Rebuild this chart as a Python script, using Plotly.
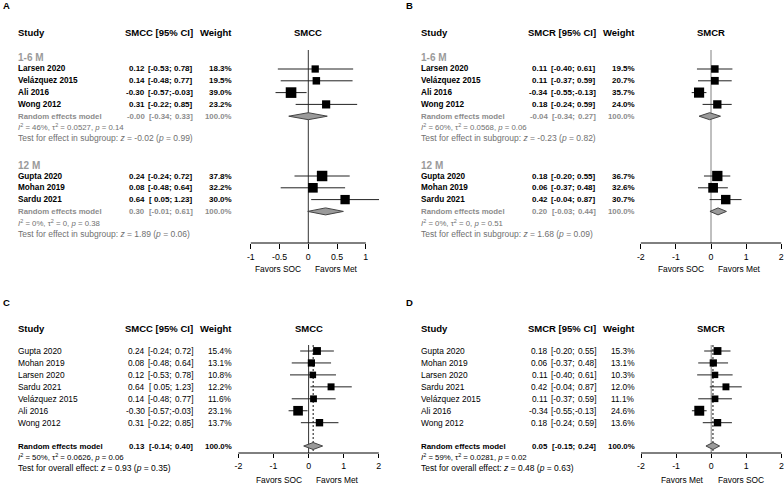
import math
import plotly.graph_objects as go

W, H = 784, 485
FONT = "Liberation Sans, Arial, Helvetica, sans-serif"

# ---------------- data ----------------
sub_1_6_studies = ["Larsen 2020", "Velázquez 2015", "Ali 2016", "Wong 2012"]
sub_12_studies = ["Gupta 2020", "Mohan 2019", "Sardu 2021"]
all_studies = ["Gupta 2020", "Mohan 2019", "Larsen 2020", "Sardu 2021",
               "Velázquez 2015", "Ali 2016", "Wong 2012"]

# Panel A: SMCC by subgroup
smcc_1_6_est = [0.12, 0.14, -0.30, 0.31]
smcc_1_6_lo = [-0.53, -0.48, -0.57, -0.22]
smcc_1_6_hi = [0.78, 0.77, -0.03, 0.85]
smcc_1_6_w = [18.3, 19.5, 39.0, 23.2]
smcc_1_6_re = [-0.00, -0.34, 0.33]
smcc_1_6_het = ["46%", "0.0527", "0.14"]
smcc_1_6_test = ["-0.02", "0.99"]

smcc_12_est = [0.24, 0.08, 0.64]
smcc_12_lo = [-0.24, -0.48, 0.05]
smcc_12_hi = [0.72, 0.64, 1.23]
smcc_12_w = [37.8, 32.2, 30.0]
smcc_12_re = [0.30, -0.01, 0.61]
smcc_12_het = ["0%", "0", "0.38"]
smcc_12_test = ["1.89", "0.06"]

# Panel B: SMCR by subgroup
smcr_1_6_est = [0.11, 0.11, -0.34, 0.18]
smcr_1_6_lo = [-0.40, -0.37, -0.55, -0.24]
smcr_1_6_hi = [0.61, 0.59, -0.13, 0.59]
smcr_1_6_w = [19.5, 20.7, 35.7, 24.0]
smcr_1_6_re = [-0.04, -0.34, 0.27]
smcr_1_6_het = ["60%", "0.0568", "0.06"]
smcr_1_6_test = ["-0.23", "0.82"]

smcr_12_est = [0.18, 0.06, 0.42]
smcr_12_lo = [-0.20, -0.37, -0.04]
smcr_12_hi = [0.55, 0.48, 0.87]
smcr_12_w = [36.7, 32.6, 30.7]
smcr_12_re = [0.20, -0.03, 0.44]
smcr_12_het = ["0%", "0", "0.51"]
smcr_12_test = ["1.68", "0.09"]

# Panel C: SMCC overall
smcc_all_est = [0.24, 0.08, 0.12, 0.64, 0.14, -0.30, 0.31]
smcc_all_lo = [-0.24, -0.48, -0.53, 0.05, -0.48, -0.57, -0.22]
smcc_all_hi = [0.72, 0.64, 0.78, 1.23, 0.77, -0.03, 0.85]
smcc_all_w = [15.4, 13.1, 10.8, 12.2, 11.6, 23.1, 13.7]
smcc_all_re = [0.13, -0.14, 0.40]
smcc_all_het = ["50%", "0.0626", "0.06"]
smcc_all_test = ["0.93", "0.35"]

# Panel D: SMCR overall
smcr_all_est = [0.18, 0.06, 0.11, 0.42, 0.11, -0.34, 0.18]
smcr_all_lo = [-0.20, -0.37, -0.40, -0.04, -0.37, -0.55, -0.24]
smcr_all_hi = [0.55, 0.48, 0.61, 0.87, 0.59, -0.13, 0.59]
smcr_all_w = [15.3, 13.1, 10.3, 12.0, 11.1, 24.6, 13.6]
smcr_all_re = [0.05, -0.15, 0.24]
smcr_all_het = ["59%", "0.0281", "0.02"]
smcr_all_test = ["0.48", "0.63"]

ticks_a = [-1, -0.5, 0, 0.5, 1]
ticks_bcd = [-2, -1, 0, 1, 2]

# ---------------- helpers ----------------
fig = go.Figure()
shapes = []
ann = []


def P(xpx):
    return xpx / W


def Q(ypx):
    return 1 - ypx / H


def add_text(xpx, ypx, s, anchor="left", size=8.2, color="#000", bold=False):
    if bold:
        s = "<b>" + s + "</b>"
    ann.append(dict(x=P(xpx), y=Q(ypx), xref="paper", yref="paper", text=s,
                    showarrow=False, xanchor=anchor, yanchor="middle",
                    font=dict(family=FONT, size=size, color=color)))


def f2(v):
    return f"{v:.2f}"


def lo_txt(v):
    return "[" + ("\u00a0" if v >= 0 else "") + f2(v) + ";"


def hi_txt(v):
    return f2(v) + "]"


def w_txt(w):
    return f"{w:.1f}%"


def text_row(ox, y, name, est, lo, hi, w, color="#000", bold=False, size=8.3, nsize=None):
    nsize = nsize or size
    add_text(ox + 16, y, name, "left", size=nsize, color=color, bold=bold)
    add_text(ox + 147, y, f2(est), "right", size=size, color=color, bold=bold)
    add_text(ox + 173.5, y, lo_txt(lo), "right", size=size, color=color, bold=bold)
    add_text(ox + 195, y, hi_txt(hi), "right", size=size, color=color, bold=bold)
    add_text(ox + 233.5, y, w_txt(w), "right", size=size, color=color, bold=bold)


def marks(xa, ys, est, lo, hi, w, k):
    xs, yy = [], []
    for y, l, h in zip(ys, lo, hi):
        xs += [l, h, None]
        yy += [y, y, None]
    fig.add_trace(go.Scatter(x=xs, y=yy, xaxis=xa, yaxis="y", mode="lines",
                             line=dict(color="#222", width=1),
                             hoverinfo="skip", showlegend=False))
    fig.add_trace(go.Scatter(x=est, y=ys, xaxis=xa, yaxis="y", mode="markers",
                             marker=dict(symbol="square", color="#000", opacity=1,
                                         size=[k * math.sqrt(v) for v in w],
                                         line=dict(width=0)),
                             hoverinfo="skip", showlegend=False))


def diamond(xa, y, re, h=3.5):
    e, l, u = re
    fig.add_trace(go.Scatter(x=[l, e, u, e, l], y=[y, y - h, y, y + h, y],
                             xaxis=xa, yaxis="y", mode="lines", fill="toself",
                             fillcolor="#9a9a9a", line=dict(color="#444", width=1),
                             hoverinfo="skip", showlegend=False))


def vline(xa, x, y0, y1, color, dash="solid"):
    shapes.append(dict(type="line", xref=xa, yref="y", x0=x, x1=x, y0=y0, y1=y1,
                       layer="below", line=dict(color=color, width=1, dash=dash)))


def axis(xa_key, dom_px, x0px, scale, ticks, axis_y, ticklen):
    r = [(dom_px[0] - x0px) / scale, (dom_px[1] - x0px) / scale]
    shapes.append(dict(type="line", xref=xa_key, yref="y", x0=ticks[0], x1=ticks[-1],
                       y0=axis_y, y1=axis_y, line=dict(color="#000", width=1)))
    return dict(domain=[P(dom_px[0]), P(dom_px[1])], range=r, anchor="free",
                position=Q(axis_y), showgrid=False, zeroline=False, showline=False,
                ticks="outside", ticklen=ticklen, tickwidth=1, tickcolor="#000",
                tickvals=ticks, ticktext=[f"{t:g}" for t in ticks],
                tickfont=dict(family=FONT, size=8.8, color="#000"), fixedrange=True)


def het_text(het):
    return (f"<i>I</i><sup>2</sup> = {het[0]}, \u03c4<sup>2</sup> = {het[1]}, "
            f"<i>p</i> = {het[2]}")


def test_text(label, t):
    return f"{label}: <i>z</i> = {t[0]} (<i>p</i> = {t[1]})"


# ---------------- top panels (A, B) ----------------
rows_g1 = [69, 80.8, 92.6, 104.4]
re_g1 = 116.2
rows_g2 = [176, 187.8, 199.6]
re_g2 = 211.4
GRAY_RE = "#8c8c8c"
GRAY_TXT = "#707070"

top = [
    dict(ox=0, letter="A", meas="SMCC", xa="x", key="xaxis", x0=308.3, scale=57.5,
         dom=[230, 392], ticks=ticks_a,
         g1=(smcc_1_6_est, smcc_1_6_lo, smcc_1_6_hi, smcc_1_6_w, smcc_1_6_re, smcc_1_6_het, smcc_1_6_test),
         g2=(smcc_12_est, smcc_12_lo, smcc_12_hi, smcc_12_w, smcc_12_re, smcc_12_het, smcc_12_test),
         zc="#333"),
    dict(ox=403, letter="B", meas="SMCR", xa="x2", key="xaxis2", x0=711.0, scale=35.1,
         dom=[634, 784], ticks=ticks_bcd,
         g1=(smcr_1_6_est, smcr_1_6_lo, smcr_1_6_hi, smcr_1_6_w, smcr_1_6_re, smcr_1_6_het, smcr_1_6_test),
         g2=(smcr_12_est, smcr_12_lo, smcr_12_hi, smcr_12_w, smcr_12_re, smcr_12_het, smcr_12_test),
         zc="#808080"),
]

layout_axes = {}
for p in top:
    ox = p["ox"]
    add_text(ox + 1, 6, p["letter"], "left", size=9.5, bold=True)
    add_text(ox + 16, 33, "Study", "left", size=9.5, bold=True)
    add_text(ox + 195, 33, p["meas"] + " [95% CI]", "right", size=9.5, bold=True)
    add_text(ox + 233.5, 33, "Weight", "right", size=9.5, bold=True)
    add_text(p["x0"], 33, p["meas"], "center", size=9.5, bold=True)
    layout_axes[p["key"]] = axis(p["xa"], p["dom"], p["x0"], p["scale"], p["ticks"], 243, 5)
    vline(p["xa"], 0, 50, 243, p["zc"])
    for lab, ly, studies, rows, rey, hety, testy, g in [
        ("1-6 M", 57, sub_1_6_studies, rows_g1, re_g1, 127, 137.5, p["g1"]),
        ("12 M", 165, sub_12_studies, rows_g2, re_g2, 223, 234, p["g2"]),
    ]:
        est, lo, hi, w, re, het, tst = g
        add_text(ox + 16, ly, lab, "left", size=10, color="#9a9a9a", bold=True)
        for i, s in enumerate(studies):
            text_row(ox, rows[i], s, est[i], lo[i], hi[i], w[i], bold=True, size=8.0, nsize=8.2)
        text_row(ox, rey, "Random effects model", re[0], re[1], re[2], 100.0,
                 color=GRAY_RE, bold=True, size=7.8)
        add_text(ox + 16, hety, het_text(het), "left", size=7.8, color=GRAY_TXT)
        add_text(ox + 16, testy, test_text("Test for effect in subgroup", tst), "left",
                 size=8.5, color=GRAY_TXT)
        marks(p["xa"], rows, est, lo, hi, w, 1.7)
        diamond(p["xa"], rey, re)
    add_text(p["x0"] - 5, 269, "Favors SOC", "right", size=8.4)
    add_text(p["x0"] + 5, 269, "Favors Met", "left", size=8.4)

# ---------------- bottom panels (C, D) ----------------
rows_all = [351 + i * 11.95 for i in range(len(all_studies))]
re_all = 446

bottom = [
    dict(ox=0, letter="C", meas="SMCC", xa="x3", key="xaxis3", x0=308.6, scale=35.1,
         dom=[230, 392], data=(smcc_all_est, smcc_all_lo, smcc_all_hi, smcc_all_w,
                               smcc_all_re, smcc_all_het, smcc_all_test),
         zc="#333", fav=("Favors SOC", "Favors Met")),
    dict(ox=403, letter="D", meas="SMCR", xa="x4", key="xaxis4", x0=711.2, scale=35.1,
         dom=[634, 784], data=(smcr_all_est, smcr_all_lo, smcr_all_hi, smcr_all_w,
                               smcr_all_re, smcr_all_het, smcr_all_test),
         zc="#808080", fav=("Favors Met", "Favors SOC")),
]

for p in bottom:
    ox = p["ox"]
    est, lo, hi, w, re, het, tst = p["data"]
    add_text(ox + 1, 302, p["letter"], "left", size=9.5, bold=True)
    add_text(ox + 16, 328, "Study", "left", size=9.5, bold=True)
    add_text(ox + 195, 328, p["meas"] + " [95% CI]", "right", size=9.5, bold=True)
    add_text(ox + 233.5, 328, "Weight", "right", size=9.5, bold=True)
    add_text(p["x0"], 328, p["meas"], "center", size=9.5, bold=True)
    layout_axes[p["key"]] = axis(p["xa"], p["dom"], p["x0"], p["scale"], ticks_bcd, 453, 4)
    vline(p["xa"], 0, 345, 453, p["zc"])
    vline(p["xa"], re[0], 345, 453, "#111", dash="2px,2px")
    for i, s in enumerate(all_studies):
        text_row(ox, rows_all[i], s, est[i], lo[i], hi[i], w[i], size=8.3, nsize=8.4)
    text_row(ox, re_all, "Random effects model", re[0], re[1], re[2], 100.0, bold=True, size=7.9)
    add_text(ox + 16, 457, het_text(het), "left", size=7.8)
    add_text(ox + 16, 468, test_text("Test for overall effect", tst), "left", size=8.5)
    marks(p["xa"], rows_all, est, lo, hi, w, 2.0)
    diamond(p["xa"], re_all, re)
    add_text(p["x0"] - 5, 479.5, p["fav"][0], "right", size=8.4)
    add_text(p["x0"] + 5, 479.5, p["fav"][1], "left", size=8.4)

fig.update_layout(
    width=W, height=H,
    margin=dict(l=0, r=0, t=0, b=0),
    paper_bgcolor="white", plot_bgcolor="rgba(0,0,0,0)",
    showlegend=False,
    yaxis=dict(range=[H, 0], domain=[0, 1], visible=False, fixedrange=True),
    annotations=ann, shapes=shapes,
    font=dict(family=FONT),
    **layout_axes,
)

fig.write_html("out.html",
               config={"displayModeBar": False},
               post_script="document.body.style.margin='0';document.body.style.overflow='hidden';")
